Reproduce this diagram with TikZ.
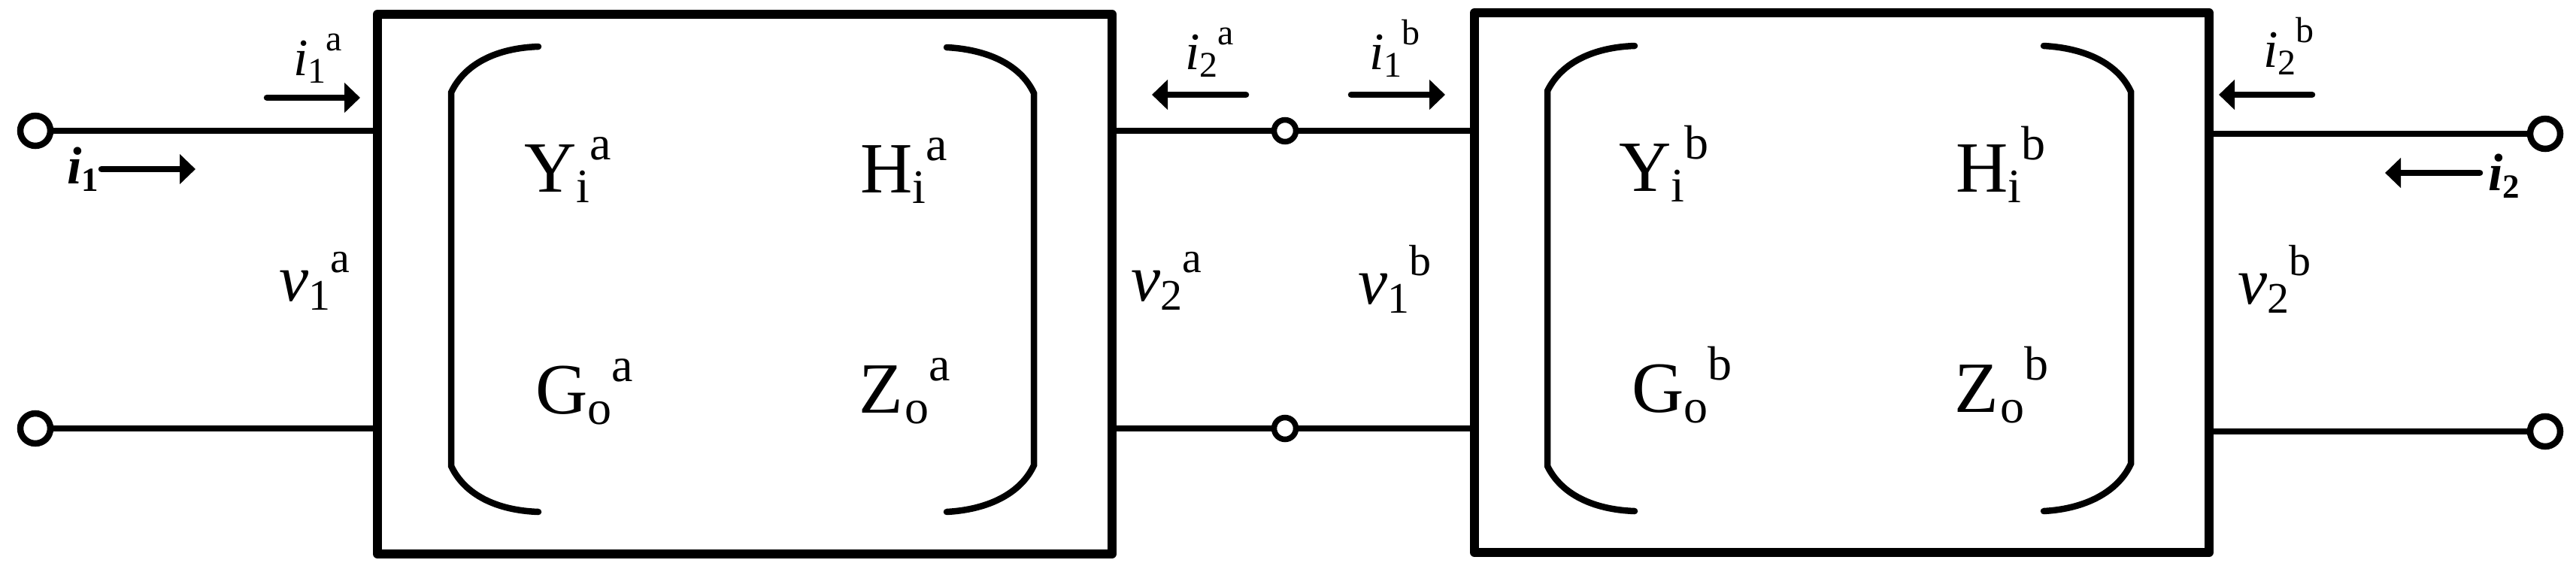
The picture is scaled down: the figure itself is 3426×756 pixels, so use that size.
\documentclass[tikz,border=0pt]{standalone}
\usepackage{fontspec}
\setmainfont{Liberation Serif}
\usetikzlibrary{arrows.meta,positioning,calc}
\newcommand{\parlab}[3]{{\fontsize{96}{96}\selectfont #1}{\fontsize{64}{64}\selectfont\raisebox{-14pt}{#2}\raisebox{43pt}{#3}}}
\newcommand{\curlab}[2]{{\fontsize{70}{70}\selectfont\itshape i}{\fontsize{48}{48}\selectfont\raisebox{-10pt}{#1}\raisebox{33pt}{#2}}}
\newcommand{\vollab}[2]{{\fontsize{88}{88}\selectfont\itshape v}{\fontsize{58}{58}\selectfont\raisebox{-12pt}{#1}\raisebox{38pt}{#2}}}
\newcommand{\totlab}[1]{{\bfseries\itshape\fontsize{70}{70}\selectfont i}{\bfseries\fontsize{45}{45}\selectfont\raisebox{-10pt}{#1}}}
\tikzset{
    twoport/.style={draw, rectangle, line width=12pt, line join=round, inner sep=0pt, minimum width=977pt, minimum height=718pt},
    port/.style={draw, circle, fill=white, line width=8.5pt, inner sep=0pt, minimum size=40pt},
    midport/.style={port, line width=7.5pt, minimum size=29pt},
    wire/.style={line width=8.5pt},
    current/.style={-{Triangle[length=21pt, width=39pt]}, line width=8.5pt, line cap=round},
    bracket/.style={line width=8.5pt, line cap=round},
    lab/.style={anchor=base west, inner sep=0pt, outer sep=0pt}
}
\begin{document}
\begin{tikzpicture}[x=1pt, y=-1pt]
    \useasboundingbox (0,0) rectangle (3426,756);
    \node[twoport] (boxa) at (990.5,378) {};
    \node[twoport] (boxb) at (2449.5,376) {};
    \node[port] (ta) at (47,174) {};
    \node[port] (tb) at (47,570) {};
    \node[midport] (ma) at (1709,174) {};
    \node[midport] (mb) at (1709,570) {};
    \node[port] (ra) at (3385,178) {};
    \node[port] (rb) at (3385,574) {};
    \draw[wire] (ta) -- (ta -| boxa.west);
    \draw[wire] (tb) -- (tb -| boxa.west);
    \draw[wire] (ma) -- (ma -| boxa.east);
    \draw[wire] (mb) -- (mb -| boxa.east);
    \draw[wire] (ma) -- (ma -| boxb.west);
    \draw[wire] (mb) -- (mb -| boxb.west);
    \draw[wire] (ra) -- (ra -| boxb.east);
    \draw[wire] (rb) -- (rb -| boxb.east);
    \draw[bracket] (716,62) .. controls (660,64) and (618,85) .. (600,123) -- (600,620) .. controls (618,658) and (660,679) .. (716,681);
    \draw[bracket] (1259,63) .. controls (1315,66) and (1358,87) .. (1375,124) -- (1375,619) .. controls (1358,656) and (1315,678) .. (1259,681);
    \draw[bracket] (2174,61) .. controls (2118,63) and (2076,84) .. (2058,121) -- (2058,620) .. controls (2076,657) and (2118,678) .. (2174,680);
    \draw[bracket] (2718,61) .. controls (2774,64) and (2817,85) .. (2834,122) -- (2834,617) .. controls (2817,654) and (2774,677) .. (2718,680);
    \coordinate (ias) at (355,130);
    \coordinate (iae) at (479,130);
    \coordinate (its) at (135,225);
    \coordinate (ite) at (260,225);
    \coordinate (jas) at (1657,126);
    \coordinate (jae) at (1532,126);
    \coordinate (ibs) at (1797,126);
    \coordinate (ibe) at (1922,126);
    \coordinate (jbs) at (3075,126);
    \coordinate (jbe) at (2951,126);
    \coordinate (jts) at (3298,230);
    \coordinate (jte) at (3172,230);
    \draw[current] (ias) -- (iae);
    \draw[current] (its) -- (ite);
    \draw[current] (jas) -- (jae);
    \draw[current] (ibs) -- (ibe);
    \draw[current] (jbs) -- (jbe);
    \draw[current] (jts) -- (jte);
    \node[lab] (ila) at (390,100) {\curlab{1}{a}};
    \node[lab] (jla) at (1576,92) {\curlab{2}{a}};
    \node[lab] (ilb) at (1821,92) {\curlab{1}{b}};
    \node[lab] (jlb) at (3010,89) {\curlab{2}{b}};
    \node[lab] (ilt) at (89,244) {\totlab{1}};
    \node[lab] (jlt) at (3309,253) {\totlab{2}};
    \node[lab] (vla) at (371,400) {\vollab{1}{a}};
    \node[lab] (wla) at (1504,400) {\vollab{2}{a}};
    \node[lab] (vlb) at (1806,404) {\vollab{1}{b}};
    \node[lab] (wlb) at (2976,404) {\vollab{2}{b}};
    \node[lab] (ya) at (697,255) {\parlab{Y}{i}{a}};
    \node[lab] (ha) at (1144,256) {\parlab{H}{i}{a}};
    \node[lab] (ga) at (712,550) {\parlab{G}{o}{a}};
    \node[lab] (za) at (1142,549) {\parlab{Z\kern3pt}{o}{a}};
    \node[lab] (yb) at (2153,254) {\parlab{Y}{i}{b}};
    \node[lab] (hb) at (2601,255) {\parlab{H}{i}{b}};
    \node[lab] (gb) at (2170,548) {\parlab{G}{o}{b}};
    \node[lab] (zb) at (2599,548) {\parlab{Z\kern3pt}{o}{b}};
\end{tikzpicture}
\end{document}
